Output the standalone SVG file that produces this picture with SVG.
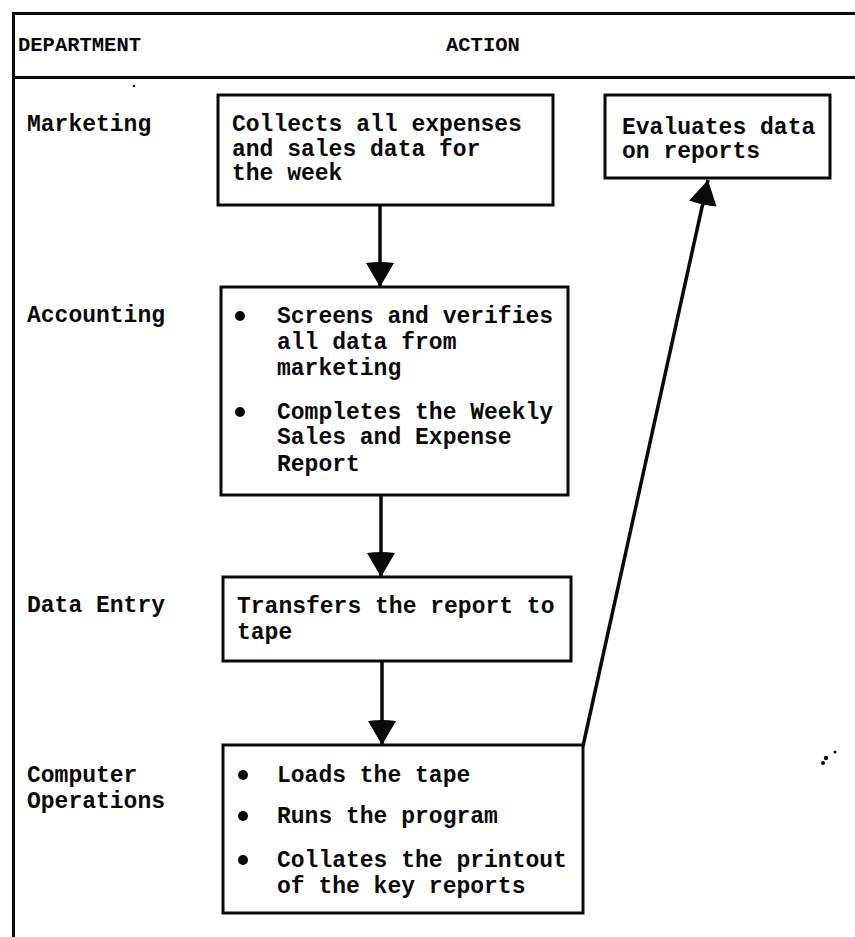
<svg xmlns="http://www.w3.org/2000/svg" width="855" height="937" viewBox="0 0 855 937">
  <style>
    .frame { stroke: #0a0a0a; stroke-width: 3; fill: none; }
    .box { stroke: #0a0a0a; stroke-width: 3; fill: #fff; }
    .t { font-family: "Liberation Mono", "DejaVu Sans Mono", monospace; font-weight: bold; font-size: 23px; fill: #0a0a0a; }
    .h { font-size: 20.5px; }
    .dot { fill: #0a0a0a; }
    .edge { stroke: #0a0a0a; stroke-width: 3.5; fill: none; }
  </style>
  <defs>
    <marker id="head" viewBox="0 0 26 30" refX="25" refY="15" markerWidth="26" markerHeight="30" markerUnits="userSpaceOnUse" orient="auto">
      <path d="M1,1 Q-1,15 1,29 L25,15 Z" fill="#0a0a0a"/>
    </marker>
  </defs>
  <rect width="855" height="937" fill="#fff"/>

  <!-- table frame and header -->
  <g id="frame">
    <line class="frame" x1="13.5" y1="13" x2="13.5" y2="937"/>
    <line class="frame" x1="12" y1="13.5" x2="855" y2="13.5"/>
    <line class="frame" x1="12" y1="77.5" x2="855" y2="77.5"/>
    <text class="t h" x="18" y="51">DEPARTMENT</text>
    <text class="t h" x="446" y="51">ACTION</text>
  </g>

  <!-- department labels -->
  <g id="departments">
    <text class="t" x="27" y="131">Marketing</text>
    <text class="t" x="27" y="322">Accounting</text>
    <text class="t" x="27" y="612">Data Entry</text>
    <text class="t" x="27" y="782">Computer</text>
    <text class="t" x="27" y="808">Operations</text>
  </g>

  <!-- connectors -->
  <g id="connectors">
    <line class="edge" x1="380" y1="205" x2="380" y2="287" marker-end="url(#head)"/>
    <line class="edge" x1="381" y1="495" x2="381" y2="577" marker-end="url(#head)"/>
    <line class="edge" x1="382" y1="661" x2="382" y2="745" marker-end="url(#head)"/>
    <line class="edge" x1="583" y1="746" x2="708" y2="180" marker-end="url(#head)"/>
  </g>

  <g id="collects">
    <rect class="box" x="218" y="95" width="335" height="110"/>
    <text class="t" x="232" y="131">Collects all expenses</text>
    <text class="t" x="232" y="156">and sales data for</text>
    <text class="t" x="232" y="180">the week</text>
  </g>

  <g id="evaluates">
    <rect class="box" x="605" y="95" width="225" height="83"/>
    <text class="t" x="622" y="134">Evaluates data</text>
    <text class="t" x="622" y="158">on reports</text>
  </g>

  <g id="screens">
    <rect class="box" x="221" y="287" width="347" height="208"/>
    <circle class="dot" cx="240" cy="316" r="5"/>
    <text class="t" x="277" y="323">Screens and verifies</text>
    <text class="t" x="277" y="349">all data from</text>
    <text class="t" x="277" y="375">marketing</text>
    <circle class="dot" cx="240" cy="412" r="5"/>
    <text class="t" x="277" y="419">Completes the Weekly</text>
    <text class="t" x="277" y="444">Sales and Expense</text>
    <text class="t" x="277" y="471">Report</text>
  </g>

  <g id="transfers">
    <rect class="box" x="223" y="577" width="348" height="84"/>
    <text class="t" x="237" y="613">Transfers the report to</text>
    <text class="t" x="237" y="639">tape</text>
  </g>

  <g id="loads">
    <rect class="box" x="223" y="745" width="360" height="168"/>
    <circle class="dot" cx="243" cy="775" r="5"/>
    <text class="t" x="277" y="782">Loads the tape</text>
    <circle class="dot" cx="243" cy="816" r="5"/>
    <text class="t" x="277" y="823">Runs the program</text>
    <circle class="dot" cx="243" cy="860" r="5"/>
    <text class="t" x="277" y="867">Collates the printout</text>
    <text class="t" x="277" y="893">of the key reports</text>
  </g>

  <!-- stray marks on the sheet -->
  <g id="specks" fill="#0a0a0a">
    <circle cx="134" cy="86" r="1.3"/>
    <circle cx="826" cy="758" r="2.2"/>
    <circle cx="823" cy="763" r="2"/>
    <circle cx="835" cy="752" r="1.5"/>
  </g>
</svg>
